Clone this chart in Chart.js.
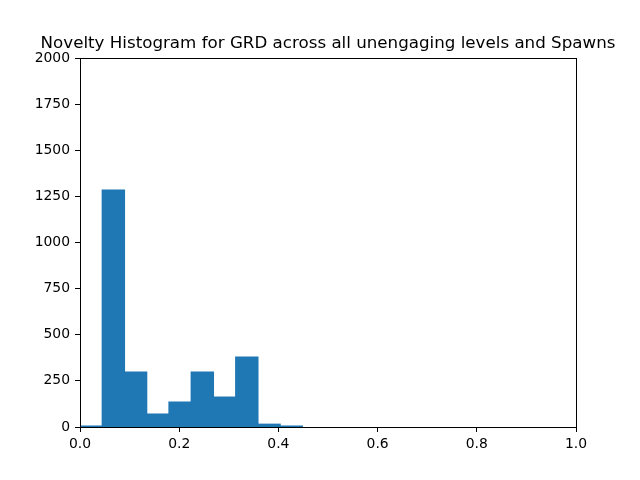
<!DOCTYPE html>
<html>
<head>
<meta charset="utf-8">
<script src="https://cdn.jsdelivr.net/npm/chart.js@4.4.0/dist/chart.umd.min.js"></script>
<style>
  body { margin: 0; background: #fff; }
  canvas { display: block; }
</style>
</head>
<body>
<canvas id="histChart" width="640" height="480"></canvas>
<script>
// histogram bins (edges) and counts
const binEdges = [0.0, 0.0448, 0.0897, 0.1345, 0.1794, 0.2242, 0.2690, 0.3139, 0.3587, 0.4036, 0.4484];
const counts = [5, 1284, 298, 70, 135, 298, 162, 379, 15, 5];
const xTicks = [0.0, 0.2, 0.4, 0.6, 0.8, 1.0];
const yTicks = [0, 250, 500, 750, 1000, 1250, 1500, 1750, 2000];

const bars = counts.map((c, i) => ({ x: (binEdges[i] + binEdges[i + 1]) / 2, y: c }));

// box around the axes + title centred over the plot area (matplotlib style)
const frame = {
  id: 'frame',
  afterLayout(chart) {
    const t = chart.titleBlock;
    const mid = (chart.chartArea.left + chart.chartArea.right) / 2;
    t.left = mid - 310;
    t.right = mid + 310;
  },
  afterDraw(chart) {
    const a = chart.chartArea;
    const c = chart.ctx;
    c.save();
    c.strokeStyle = '#000';
    c.lineWidth = 1;
    c.strokeRect(Math.round(a.left) + 0.5, Math.round(a.top) + 0.5,
      Math.round(a.right - a.left), Math.round(a.bottom - a.top));
    c.restore();
  }
};

Chart.defaults.font.family = 'DejaVu Sans';
Chart.defaults.color = '#000';

const ctx = document.getElementById('histChart').getContext('2d');
new Chart(ctx, {
  type: 'bar',
  data: {
    datasets: [{
      data: bars,
      backgroundColor: '#1f77b4',
      borderWidth: 0,
      inflateAmount: 0.6,
      barPercentage: 1.0,
      categoryPercentage: 1.0
    }]
  },
  options: {
    responsive: false,
    animation: false,
    devicePixelRatio: 1,
    layout: { padding: { left: 0, right: 64, top: 0, bottom: 0 } },
    plugins: {
      legend: { display: false },
      tooltip: { enabled: false },
      title: {
        display: true,
        text: 'Novelty Histogram for GRD across all unengaging levels and Spawns',
        font: { size: 16.7, weight: 'normal' },
        color: '#000',
        padding: { top: 34, bottom: 4 }
      }
    },
    scales: {
      x: {
        type: 'linear',
        min: 0,
        max: 1,
        offset: false,
        afterBuildTicks: s => { s.ticks = xTicks.map(v => ({ value: v })); },
        afterFit: s => { s.height = 53; },
        grid: { offset: false, drawOnChartArea: false, drawTicks: true, tickLength: 5, color: '#000' },
        border: { color: '#000' },
        ticks: { font: { size: 13.9 }, padding: 4, maxRotation: 0, callback: v => v.toFixed(1) }
      },
      y: {
        min: 0,
        max: 2000,
        afterBuildTicks: s => { s.ticks = yTicks.map(v => ({ value: v })); },
        afterFit: s => { s.width = 80; },
        grid: { drawOnChartArea: false, drawTicks: true, tickLength: 5, color: '#000' },
        border: { color: '#000' },
        ticks: { font: { size: 13.9 }, padding: 5, callback: v => String(v) }
      }
    }
  },
  plugins: [frame]
});
</script>
</body>
</html>
